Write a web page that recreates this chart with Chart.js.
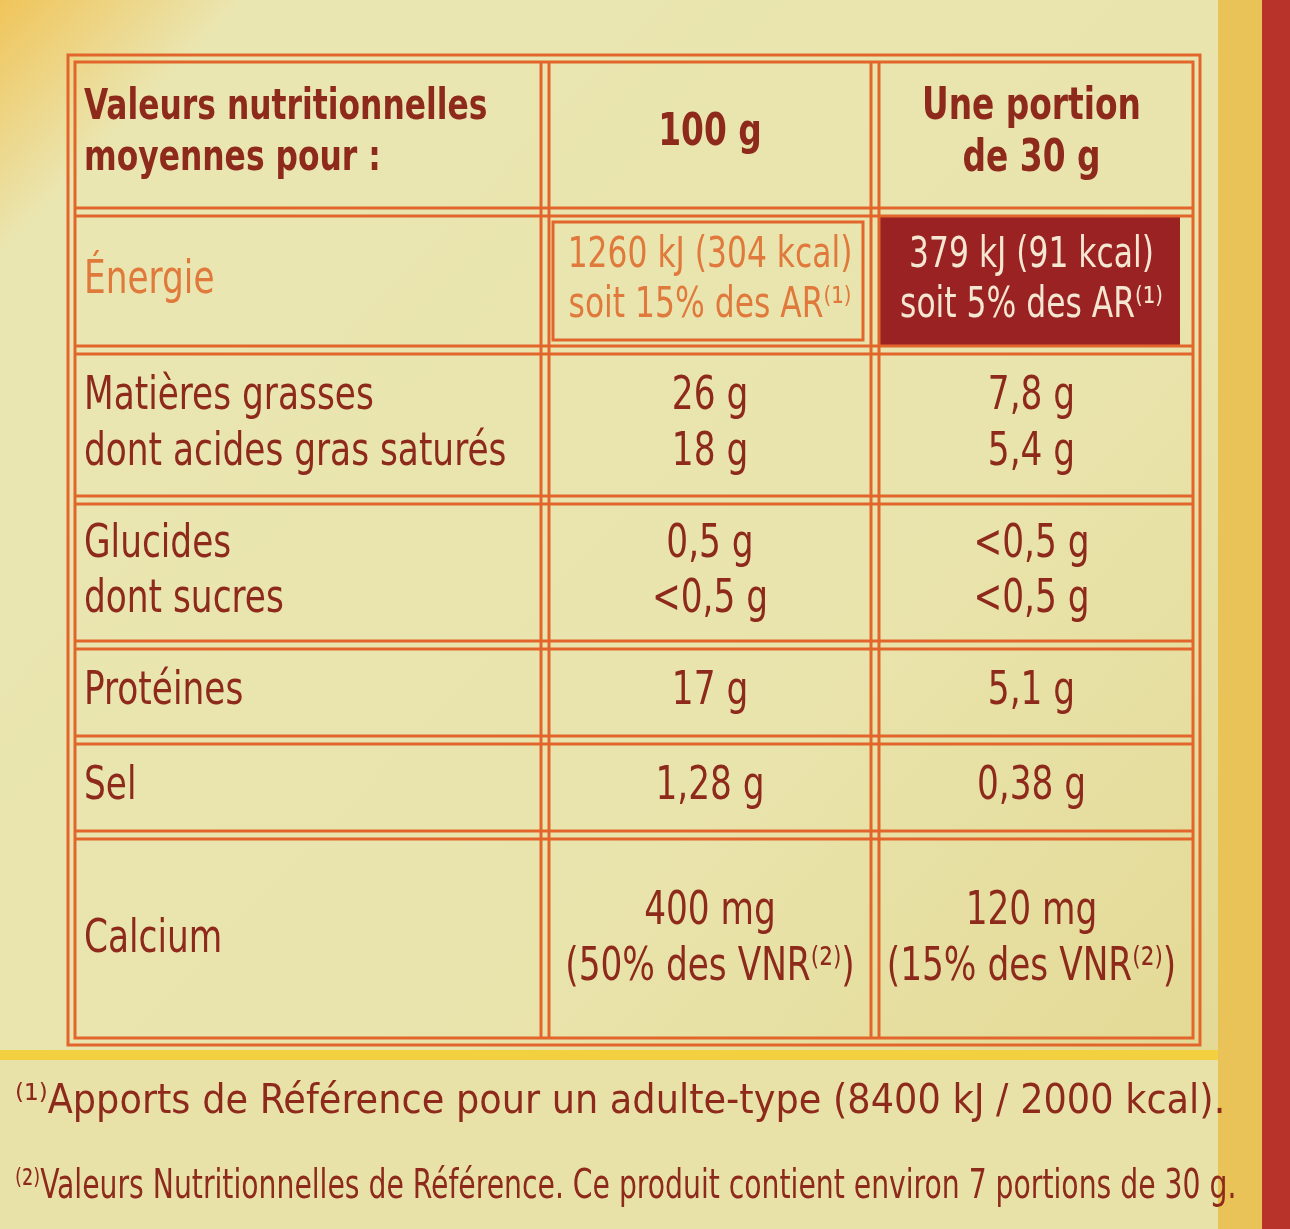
<!DOCTYPE html>
<html><head><meta charset="utf-8">
<script src="https://cdn.jsdelivr.net/npm/chart.js@4.4.0/dist/chart.umd.min.js"></script>
<style>html,body{margin:0;padding:0;background:#e6dea0}#c{display:block}</style>
</head><body>
<canvas id="c" width="1290" height="1229"></canvas>
<script>
const headers = ["Valeurs nutritionnelles|moyennes pour :", "100 g", "Une portion|de 30 g"];
const nutrients = ["Énergie", "Matières grasses|dont acides gras saturés", "Glucides|dont sucres", "Protéines", "Sel", "Calcium"];
const per100g = ["1260 kJ (304 kcal)|soit 15% des AR⁽¹⁾", "26 g|18 g", "0,5 g|<0,5 g", "17 g", "1,28 g", "400 mg|(50% des VNR⁽²⁾)"];
const perPortion = ["379 kJ (91 kcal)|soit 5% des AR⁽¹⁾", "7,8 g|5,4 g", "<0,5 g|<0,5 g", "5,1 g", "0,38 g", "120 mg|(15% des VNR⁽²⁾)"];
const footnotes = ["⁽¹⁾Apports de Référence pour un adulte-type (8400 kJ / 2000 kcal).", "⁽²⁾Valeurs Nutritionnelles de Référence. Ce produit contient environ 7 portions de 30 g."];

const colEdges = [68, 545, 875, 1200];
const rowEdges = [55, 212, 350, 500, 645, 740, 835, 1045];
const FONT = '"Liberation Sans Narrow","DejaVu Sans Condensed","Roboto",sans-serif';
const RED = '#8e2a1c', ORANGE = '#e2662c';
const SQ = 0.83;

const tablePlugin = {
  id: 'table',
  beforeDraw(chart) {
    const {ctx, scales:{x, y}} = chart;
    const X = v => x.getPixelForValue(v), Y = v => y.getPixelForValue(v);
    const g = ctx.createLinearGradient(0,0,1290,1229);
    g.addColorStop(0,'#f0c45a'); g.addColorStop(0.1,'#eae6b2'); g.addColorStop(0.6,'#e9e4ac'); g.addColorStop(1,'#e2d68e');
    ctx.fillStyle = g; ctx.fillRect(0,0,1290,1229);
    ctx.fillStyle = '#f2d040'; ctx.fillRect(0, Y(1050), 1290, 1229-Y(1050));
    ctx.fillStyle = '#e8e2a8'; ctx.fillRect(0, Y(1060), 1290, 1229-Y(1060));
    ctx.fillStyle = '#b8342a'; ctx.fillRect(X(1262),0,30,1229);
    ctx.fillStyle = '#e9c258'; ctx.fillRect(X(1218),0,44,1229);
    ctx.fillStyle = '#9b2222';
    ctx.fillRect(X(colEdges[2]+5), Y(rowEdges[1]+5), X(colEdges[3]-20)-X(colEdges[2]+5), Y(rowEdges[2]-5)-Y(rowEdges[1]+5));
    ctx.strokeStyle = ORANGE; ctx.lineWidth = 3;
    for (const off of [0, 7]) {
      ctx.strokeRect(X(colEdges[0]+off), Y(rowEdges[0]+off), X(colEdges[3]-off)-X(colEdges[0]+off), Y(rowEdges[7]-off)-Y(rowEdges[0]+off));
    }
    for (let i=1;i<3;i++) for (const off of [-4,4]) {
      ctx.beginPath(); ctx.moveTo(X(colEdges[i]+off), Y(rowEdges[0]+7)); ctx.lineTo(X(colEdges[i]+off), Y(rowEdges[7]-7)); ctx.stroke();
    }
    for (let j=1;j<7;j++) for (const off of [-4,4]) {
      ctx.beginPath(); ctx.moveTo(X(colEdges[0]+7), Y(rowEdges[j]+off)); ctx.lineTo(X(colEdges[3]-7), Y(rowEdges[j]+off)); ctx.stroke();
    }
    ctx.strokeRect(X(colEdges[1]+8), Y(rowEdges[1]+10), X(colEdges[2]-12)-X(colEdges[1]+8), Y(rowEdges[2]-10)-Y(rowEdges[1]+10));
    ctx.textBaseline = 'middle';
    const sq = (t, px, py, align) => {
      ctx.save(); ctx.translate(px, py); ctx.scale(SQ, 1); ctx.textAlign = align; ctx.fillText(t, 0, 0); ctx.restore();
    };
    const cellText = (txt, c, r, color, align, size, weight) => {
      const lines = txt.split('|');
      ctx.fillStyle = color; ctx.font = (weight||'500') + ' ' + size + 'px ' + FONT;
      const top = rowEdges[r], bot = rowEdges[r+1];
      const lh = size*1.2, mid = (top+bot)/2;
      lines.forEach((l,i) => {
        const yy = mid + (i-(lines.length-1)/2)*lh;
        if (align==='left') sq(l, X(colEdges[c]+16), Y(yy), 'left');
        else sq(l, X((colEdges[c]+colEdges[c+1])/2 - (c===2?6:0)), Y(yy), 'center');
      });
    };
    cellText(headers[0],0,0,RED,'left',42,'bold');
    cellText(headers[1],1,0,RED,'center',44,'bold');
    cellText(headers[2],2,0,RED,'center',44,'bold');
    nutrients.forEach((n,i) => {
      cellText(n,0,i+1,i===0?'#e07a3c':RED,'left',46);
      cellText(per100g[i],1,i+1,i===0?'#e07a3c':RED,'center',i===0?42:46);
      cellText(perPortion[i],2,i+1,i===0?'#f4e6d0':RED,'center',i===0?42:46);
    });
    ctx.fillStyle=RED; ctx.font='500 40px '+FONT;
    ctx.save(); ctx.translate(X(15), Y(1103)); ctx.scale(1.02,1); ctx.textAlign='left'; ctx.fillText(footnotes[0],0,0); ctx.restore();
    ctx.save(); ctx.translate(X(15), Y(1188)); ctx.scale(0.785,1); ctx.textAlign='left'; ctx.fillText(footnotes[1],0,0); ctx.restore();
  }
};

new Chart(document.getElementById('c'), {
  type: 'scatter',
  data: { datasets: [{ data: [], showLine:false }] },
  options: {
    responsive:false, animation:false,
    layout:{padding:0},
    plugins:{legend:{display:false}, tooltip:{enabled:false}},
    scales:{
      x:{type:'linear', min:0, max:1290, display:false},
      y:{type:'linear', min:0, max:1229, reverse:true, display:false}
    }
  },
  plugins:[tablePlugin]
});
</script>
</body></html>
